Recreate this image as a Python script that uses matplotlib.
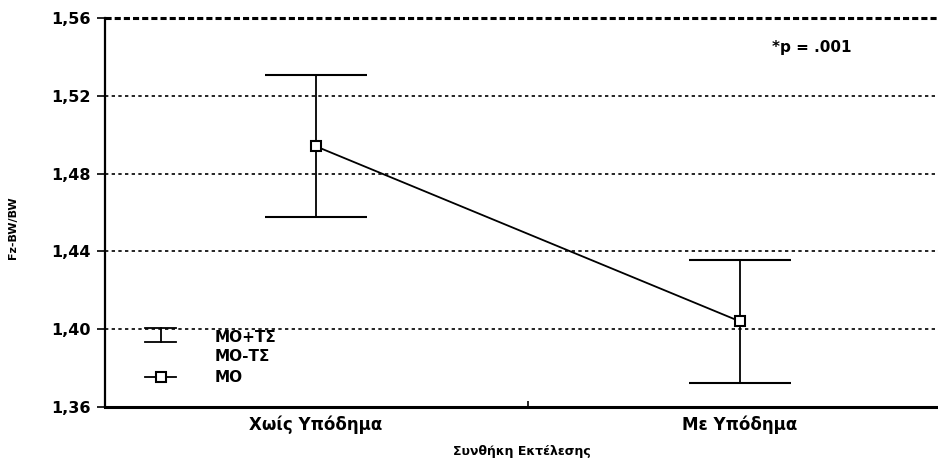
import matplotlib.pyplot as plt
from matplotlib.lines import Line2D

plt.rcParams['font.family'] = ['DejaVu Sans']
plt.rcParams['font.weight'] = 'bold'

conditions = ["Χωίς Υπόδημα", "Με Υπόδημα"]
means = [1.494, 1.404]
sds = [0.0365, 0.0316]
yticks = [1.36, 1.40, 1.44, 1.48, 1.52, 1.56]
ytick_labels = ["1,36", "1,40", "1,44", "1,48", "1,52", "1,56"]


def px_to_axes(x, y):
    # figure pixel -> axes fraction for the hand-built legend
    return (x - 105) / 833, (407 - y) / 389


fig = plt.figure(figsize=(9.38, 4.61), dpi=100)
ax = fig.add_axes([105 / 938, 54 / 461, 833 / 938, 389 / 461])

xs = list(range(len(conditions)))
ax.errorbar(xs, means, yerr=sds, color="black", lw=1.3, capsize=37,
            capthick=1.3, marker="s", markersize=7, markerfacecolor="white",
            markeredgecolor="black", markeredgewidth=1.5, zorder=3)

ax.set_xlim(-0.4976, 1.467)
ax.set_ylim(1.36, 1.56)
ax.set_yticks(yticks)
ax.set_yticklabels(ytick_labels, fontsize=11.5, fontweight="bold")
ax.set_xticks(xs)
ax.set_xticklabels(conditions, fontsize=12, fontweight="bold")
ax.set_xticks([0.5], minor=True)
ax.tick_params(axis="x", which="major", length=0, pad=6)
ax.tick_params(axis="x", which="minor", length=4, width=1.2, direction="in")
ax.tick_params(axis="y", length=6, width=1.2, direction="out", pad=4)

for v in yticks[1:-1]:
    ax.axhline(v, color="black", lw=1.2, ls=(0, (2, 2)), zorder=1)
ax.axhline(yticks[-1], color="black", lw=2.2, ls=(0, (2, 1)), zorder=1, clip_on=False)

ax.spines["top"].set_visible(False)
ax.spines["right"].set_visible(False)
ax.spines["left"].set_linewidth(1.6)
ax.spines["bottom"].set_linewidth(2.2)

ax.set_ylabel("Fz-BW/BW", fontsize=8, fontweight="bold")
ax.yaxis.set_label_coords(-0.104, 0.46)
ax.set_xlabel("Συνθήκη Εκτέλεσης", fontsize=9, fontweight="bold")
ax.xaxis.set_label_coords(0.5, -0.097)

ax.text(0.849, 0.925, "*p = .001", transform=ax.transAxes, fontsize=11,
        fontweight="bold", ha="center", va="center")

# legend drawn by hand
x0, _ = px_to_axes(145, 0)
x1, _ = px_to_axes(176, 0)
xm, _ = px_to_axes(161, 0)
_, yt = px_to_axes(0, 328)
_, yb = px_to_axes(0, 342)
_, ym = px_to_axes(0, 377)
tr = ax.transAxes
ax.add_line(Line2D([x0, x1], [yt, yt], color="black", lw=1.3, transform=tr))
ax.add_line(Line2D([x0, x1], [yb, yb], color="black", lw=1.3, transform=tr))
ax.add_line(Line2D([xm, xm], [yt, yb], color="black", lw=1.3, transform=tr))
ax.add_line(Line2D([x0, x1], [ym, ym], color="black", lw=1.3, transform=tr))
ax.plot([xm], [ym], marker="s", markersize=7, markerfacecolor="white",
        markeredgecolor="black", markeredgewidth=1.5, transform=tr)
tx, _ = px_to_axes(215, 0)
for label, py in [("ΜΟ+ΤΣ", 337), ("ΜΟ-ΤΣ", 356), ("ΜΟ", 377)]:
    _, ty = px_to_axes(0, py)
    ax.text(tx, ty, label, transform=tr, fontsize=11, fontweight="bold",
            ha="left", va="center")

fig.savefig("out.png", dpi=100)
